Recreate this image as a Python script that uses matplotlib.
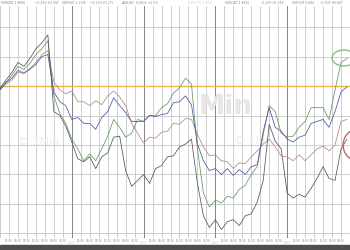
import numpy as np
import matplotlib.pyplot as plt
from matplotlib.patches import Ellipse, Rectangle

# hours since the common start, one sample every 2 hours
hours = list(range(0, 118, 2))

# change from the start, in pips (0 = orange base line)
dark = [-2, 6, 14, 24, 20, 28, 38, 44, 52, -26, -30, -41, -57, -74, -77, -72, -84, -72, -68, -52,
        -51, -86, -102, -96, -90, -99, -84, -81, -72, -71, -62, -59, -54, -99, -132, -144, -136, -146, -138, -136,
        -142, -132, -130, -118, -96, -39, -56, -64, -109, -114, -110, -113, -104, -94, -82, -94, -96, -64, -54]
blue = [-4, 4, 8, 16, 13, 17, 22, 30, 32, -6, -16, -20, -34, -32, -38, -38, -44, -32, -26, -12,
        -20, -27, -36, -36, -36, -30, -31, -29, -28, -17, -16, -10, -19, -59, -76, -86, -84, -90, -84, -91,
        -85, -90, -82, -80, -46, -22, -42, -46, -54, -57, -52, -50, -38, -36, -34, -42, -26, -6, -1]
brown = [-3, 2, 6, 14, 13, 18, 24, 32, 36, 4, -4, -8, -5, -16, -16, -20, -15, -19, -10, -5,
         -11, -20, -38, -48, -58, -52, -53, -47, -46, -38, -39, -33, -34, -49, -62, -71, -70, -76, -77, -84,
         -78, -79, -72, -66, -59, -54, -62, -71, -72, -76, -70, -76, -70, -64, -61, -66, -60, -36, -34]
green = [-4, 3, 11, 20, 17, 23, 32, 38, 46, -10, -28, -38, -54, -64, -76, -69, -76, -64, -51, -34,
         -42, -52, -48, -34, -36, -30, -30, -22, -18, -7, -2, 8, 2, -64, -109, -123, -116, -119, -112, -114,
         -105, -101, -90, -82, -49, -20, -26, -48, -52, -51, -42, -36, -22, -22, -22, -34, -4, 24, 28]

day_starts = [24, 48, 72, 96]
day_names = ['12/03', '13/03', '14/03', '15/03']
# quote strip along the top: (x pixel, text, colour)
header = [(1, 'EURUSD 1.0856', '#5a9a5a'), (35, '+0.42% H1.087', '#8a8a8a'),
          (62, 'GBPUSD 1.2745', '#8a8a8a'), (90, '+0.31% H1.277', '#8a8a8a'),
          (122, 'AUDUSD', '#5a9a5a'), (136, '0.6612 +0.5%', '#8a8a8a'),
          (188, 'NZDUSD 0.6021', '#c4dcc4'), (225, 'USDCAD 1.3615', '#5a9a5a'),
          (261, '-0.22% H1.365', '#8a8a8a'), (292, 'USDCHF 0.884', '#8a8a8a'),
          (320, '-0.35% H0.887', '#8a8a8a')]

fig = plt.figure(figsize=(3.5, 2.5), dpi=100)
ax = fig.add_axes([0, 0.048, 1, 0.928])

ax.set_xlim(1 / 3, 117)
ax.set_ylim(-154.6, 81.4)

xt = np.arange(0, 116, 3)
labels = []
for h in xt:
    labels.append('' if h % 24 == 0 else '%02d:00' % (h % 24))
ax.set_xticks(xt)
ax.set_xticklabels(labels, fontsize=2.0, color='#888888')
ax.set_yticks(np.arange(-150, 81, 30))
ax.set_yticklabels([])
ax.tick_params(length=0, pad=1)
ax.grid(color='#c6c6c6', linewidth=0.6)
ax.set_axisbelow(True)
for s in ax.spines.values():
    s.set_visible(False)

for d, name in zip(day_starts, day_names):
    ax.axvline(d, color='#858585', linewidth=0.7, zorder=1)
    ax.text(d, -0.012, name, transform=ax.get_xaxis_transform(), fontsize=2.0, color='#c4c4c4',
            ha='center', va='top', bbox=dict(facecolor='white', edgecolor='none', pad=0.6))

# watermark
ax.text(75.3, -21, 'Min', fontsize=19, fontweight='bold', color='#e6e6e6', ha='center', va='center', zorder=1)
ax.text(13, -57, '\u00a9 1Min', fontsize=8, color='#eeeeee', ha='center', va='center', zorder=1)
ax.text(85, -56, '\u00a9 1Min', fontsize=8, color='#eeeeee', ha='center', va='center', zorder=1)

ax.axhline(0, color='#e9b44c', linewidth=1.0, zorder=2)

ax.plot(hours, brown, color='#b58684', linewidth=0.55, zorder=3)
ax.plot(hours, green, color='#5d9a5d', linewidth=0.55, zorder=3)
ax.plot(hours, blue, color='#5252a2', linewidth=0.55, zorder=3)
ax.plot(hours, dark, color='#555555', linewidth=0.55, zorder=3)

ax.add_patch(Ellipse((115, 28.5), 8, 16.3, fill=False, edgecolor='#86be86', linewidth=1.0, zorder=4))
ax.add_patch(Ellipse((119.7, -60), 10, 32.5, fill=False, edgecolor='#c06868', linewidth=1.0, zorder=4,
                     clip_on=False))

for xp, txt, col in header:
    fig.text(xp / 350, 0.988, txt, fontsize=2.2, color=col, va='center', ha='left')

fig.add_artist(Rectangle((0, 0), 1, 5 / 250, transform=fig.transFigure, color='#4e4e4e'))

fig.savefig('out.png', dpi=100)
